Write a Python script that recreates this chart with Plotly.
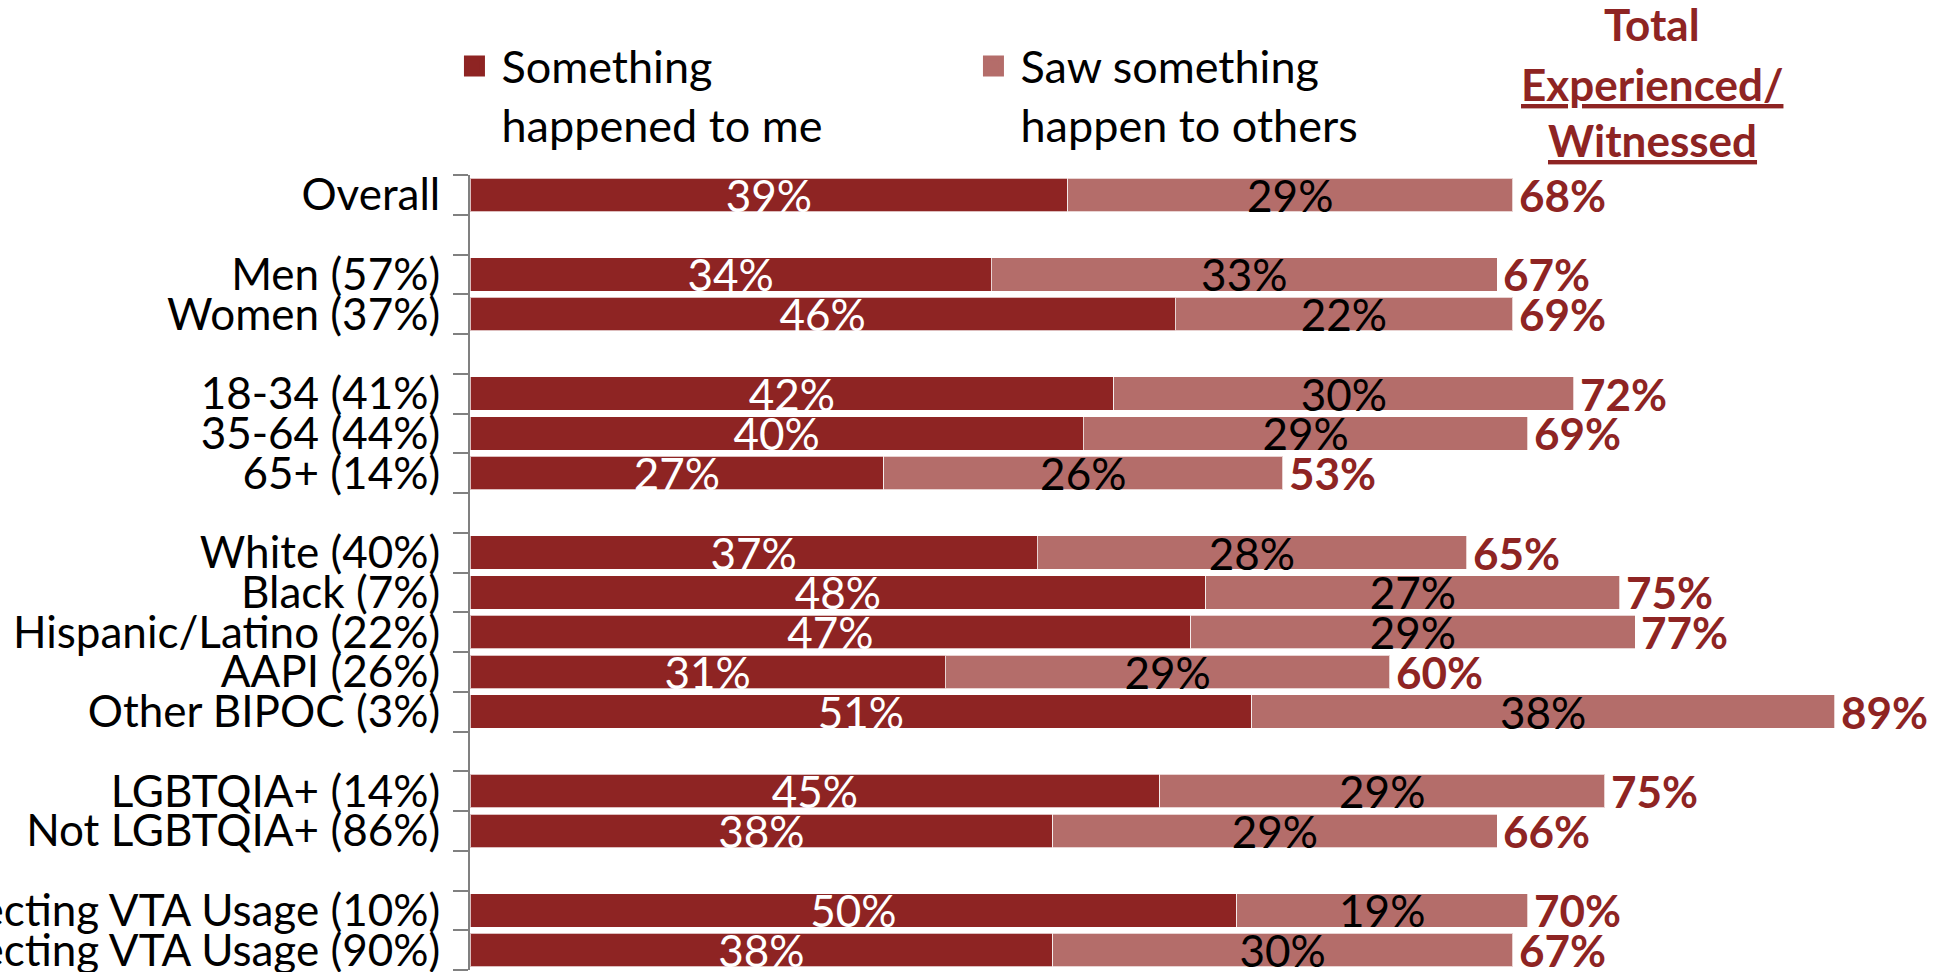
import plotly.graph_objects as go

# Row labels, grouped; a blank spacer row is placed between groups
groups = [
    ["Overall"],
    ["Men (57%)", "Women (37%)"],
    ["18-34 (41%)", "35-64 (44%)", "65+ (14%)"],
    ["White (40%)", "Black (7%)", "Hispanic/Latino (22%)", "AAPI (26%)", "Other BIPOC (3%)"],
    ["LGBTQIA+ (14%)", "Not LGBTQIA+ (86%)"],
    ["Disability Affecting VTA Usage (10%)", "No Disability Affecting VTA Usage (90%)"],
]

# Shares (%) per row, in the same order as the labels above
happened_to_me = [39, 34, 46, 42, 40, 27, 37, 48, 47, 31, 51, 45, 38, 50, 38]
saw_others = [29, 33, 22, 30, 29, 26, 28, 27, 29, 29, 38, 29, 29, 19, 30]
total_exp = [68, 67, 69, 72, 69, 53, 65, 75, 77, 60, 89, 75, 66, 70, 67]

series_names = ["Something<br>happened to me", "Saw something<br>happen to others"]

DARK = "#8E2423"
LIGHT = "#B46D6A"
FONT = "Lato"
FS = 44

# Build the category order with spacer rows
order, rows = [], []
spacer = 0
for gi, g in enumerate(groups):
    if gi > 0:
        spacer += 1
        order.append(" " * spacer)
    for name in g:
        order.append(name)
        rows.append(name)

fig = go.Figure()
for vals, color, txtcol, nm in [
    (happened_to_me, DARK, "white", series_names[0]),
    (saw_others, LIGHT, "black", series_names[1]),
]:
    fig.add_trace(go.Bar(
        y=rows, x=vals, orientation="h", name=nm, showlegend=False,
        marker=dict(color=color, line=dict(color="rgba(255,255,255,0.7)", width=1)),
        text=[f"{v}%" for v in vals],
        textposition="inside", insidetextanchor="middle", constraintext="none",
        textfont=dict(family=FONT, size=FS, color=txtcol),
    ))

# Legend entries with square swatches
for color, nm in [(DARK, series_names[0]), (LIGHT, series_names[1])]:
    fig.add_trace(go.Scatter(
        x=[None], y=[None], mode="markers", name=nm,
        marker=dict(symbol="square", size=16, color=color, line=dict(color=color, width=5)),
    ))

# Total labels at the end of each stacked bar
for name, a, b, t in zip(rows, happened_to_me, saw_others, total_exp):
    fig.add_annotation(
        x=a + b, y=name, text=f"<b>{t}%</b>", showarrow=False,
        xanchor="left", yanchor="middle", xshift=4,
        font=dict(family=FONT, size=FS, color=DARK),
    )

# Column header over the totals
header = [("<b>Total</b>", 1.19), ("<b><u>Experienced/</u></b>", 1.115), ("<b><u>Witnessed</u></b>", 1.044)]
for txt, yy in header:
    fig.add_annotation(
        x=0.800, xref="paper", y=yy, yref="paper", text=txt, showarrow=False,
        xanchor="center", yanchor="middle",
        font=dict(family=FONT, size=FS, color=DARK),
    )

fig.update_layout(
    template="none",
    width=1948, height=972,
    margin=dict(l=470, r=0, t=175, b=2),
    barmode="stack", bargap=0.16,
    plot_bgcolor="white", paper_bgcolor="white",
    font=dict(family=FONT, size=FS, color="black"),
    showlegend=True,
    legend=dict(
        orientation="h", xref="container", yref="container",
        x=0.2297, y=0.969, xanchor="left", yanchor="top",
        font=dict(family=FONT, size=45, color="black"),
        valign="top", itemwidth=44, entrywidth=460, entrywidthmode="pixels",
        traceorder="normal", bgcolor="rgba(0,0,0,0)",
    ),
    xaxis=dict(range=[0, 96.4], visible=False, showgrid=False, zeroline=False),
    yaxis=dict(
        type="category", categoryorder="array", categoryarray=order,
        tickmode="array", tickvals=order, ticktext=order,
        range=[len(order) - 0.5, -0.5], autorange=False,
        tickson="boundaries", ticks="outside",
        ticklen=15, tickwidth=2, tickcolor="#808080",
        showline=True, linecolor="#808080", linewidth=2,
        showgrid=False, zeroline=False, automargin=False,
        ticklabelstandoff=19,
        tickfont=dict(family=FONT, size=FS, color="black"),
    ),
)

fig.write_html("out.html")
